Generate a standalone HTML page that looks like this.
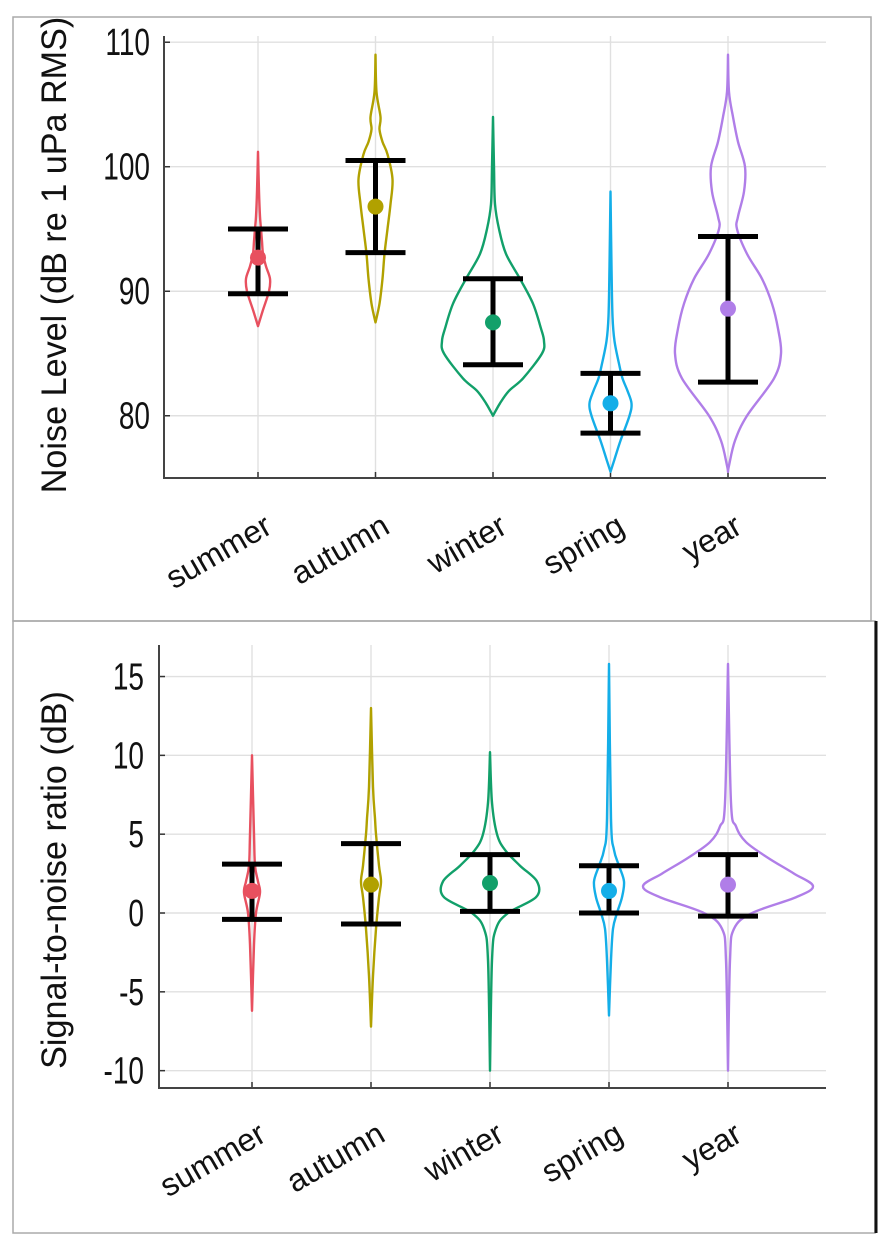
<!DOCTYPE html>
<html><head><meta charset="utf-8"><style>
html,body{margin:0;padding:0;background:#fff;}
svg{display:block;font-family:"Liberation Sans",Arial,sans-serif;}
</style></head><body>
<svg id="fig" width="886" height="1242" viewBox="0 0 886 1242" xmlns="http://www.w3.org/2000/svg">
<rect x="13" y="17" width="858" height="604" fill="none" stroke="#aaa" stroke-width="1.5"/>
<rect x="13" y="621" width="862" height="612" fill="none" stroke="#aaa" stroke-width="1.5"/>
<line x1="876" y1="621" x2="876" y2="1233" stroke="#111" stroke-width="3"/>
<g id="top"></g>
<g id="bot"></g>
</svg>
<script>
const categories = ["summer","autumn","winter","spring","year"];
const colors = ["#e8505f","#b1a100","#12a06a","#14aee8","#b07ee8"];
// top chart: noise level
const topTicks = [80,90,100,110];
const topMeans = [92.7,96.8,87.5,81.0,88.6];
const topErrLo = [89.8,93.1,84.1,78.6,82.7];
const topErrHi = [95.0,100.5,91.0,83.4,94.4];
const topViolinY = [
 [87.2,88.5,90,91,92,93,94,95,96,98,101.2],
 [87.5,89,91,93,95,97,99,101,102,103,104,106,109],
 [80,81,82,83,85,86,87,89,91,93,95,97,100,104],
 [75.5,76.5,78,80,81,82,83,84,86,88,92,98],
 [75.5,76,78,80,83,85,87,89,91,93,95,96,98,100,102,104,106,109]];
const topViolinW = [
 [0,5,11,12,8,5,4,3,2,1,0],
 [0,4,7,9,12,15,17,12,7,4,5,1,0],
 [0,7,16,30,49,51,48,40,27,13,6,2,1,0],
 [0,4,10,19,21,17,12,9,4,2,1,0],
 [0,1,7,19,46,53,50,44,34,19,9,10,16,17,10,5,1,0]];
// bottom chart: SNR
const botTicks = [-10,-5,0,5,10,15];
const botMeans = [1.4,1.8,1.9,1.4,1.8];
const botErrLo = [-0.4,-0.7,0.1,0.0,-0.2];
const botErrHi = [3.1,4.4,3.7,3.0,3.7];
const botViolinY = [
 [-6.2,-2,0,1.3,2,3,5,10],
 [-7.2,-4,-1,1,2,3,5,6,8,13],
 [-10,-3,-1,0,1,2,3,4,5,7,10.2],
 [-6.5,-3,-1,0,1,2,3,4,6,15.8],
 [-10,-3,-1,0,1,1.7,2.5,3.5,4.5,5.5,7,15.8]];
const botViolinW = [
 [0,2,4,8,6,3,2,0],
 [0,2,5,8,10,8,5,4,2,0],
 [0,2,6,18,46,47,30,15,7,2,0],
 [0,2,4,8,13,15,10,5,2,0],
 [0,2,6,24,68,85,66,40,18,8,3,0]];

const NS="http://www.w3.org/2000/svg";
function mk(parent,tag,attrs){const e=document.createElementNS(NS,tag);for(const k in attrs)e.setAttribute(k,attrs[k]);parent.appendChild(e);return e;}
function smooth(pts){let d="M"+pts[0][0]+","+pts[0][1];for(let i=0;i<pts.length-1;i++){const p0=pts[Math.max(0,i-1)],p1=pts[i],p2=pts[i+1],p3=pts[Math.min(pts.length-1,i+2)];const c1=[p1[0]+(p2[0]-p0[0])/6,p1[1]+(p2[1]-p0[1])/6],c2=[p2[0]-(p3[0]-p1[0])/6,p2[1]-(p3[1]-p1[1])/6];d+=" C"+c1[0]+","+c1[1]+" "+c2[0]+","+c2[1]+" "+p2[0]+","+p2[1];}return d;}

function chart(g,cfg){
 const {x0,x1,y0,y1,vmin,vmax,xs,ticks,means,lo,hi,vy,vw,title,titleY,tickX,labelY}=cfg;
 const Y=v=>y1-(v-vmin)/(vmax-vmin)*(y1-y0);
 const X=i=>xs[0]+i*(xs[1]-xs[0]);
 ticks.forEach(t=>{
  const l=mk(g,"line",{x1:x0,x2:x1,y1:Y(t),y2:Y(t),stroke:"#e0e0e0","stroke-width":1.4});
  
  
  const tk=mk(g,"line",{x1:x0,x2:x0+6,y1:Y(t),y2:Y(t),stroke:"#333","stroke-width":1.5});
  
  
  const tx=mk(g,"text",{x:0,y:0,"text-anchor":"end","font-size":28,fill:"#111",transform:`translate(${tickX},${Y(t)+13}) scale(1,1.35)`});
  tx.textContent=t;
  
  
 });
 categories.forEach((c,i)=>{
  const l=mk(g,"line",{x1:X(i),x2:X(i),y1:y0,y2:y1,stroke:"#e0e0e0","stroke-width":1.4});
  
  
  const tk=mk(g,"line",{x1:X(i),x2:X(i),y1:y1,y2:y1-6,stroke:"#333","stroke-width":1.5});
  
  
 });
 const ax=mk(g,"path",{d:`M${x0},${y0} L${x0},${y1} L${x1},${y1}`,fill:"none",stroke:"#444","stroke-width":2});
 
 
 categories.forEach((c,i)=>{
  const cx=X(i);
  const right=vy[i].map((v,k)=>[cx+vw[i][k],Y(v)]);
  const left=vy[i].map((v,k)=>[cx-vw[i][k],Y(v)]).reverse();
  const d=smooth(right)+" "+smooth(left).replace("M","L")+" Z";
  const p=mk(g,"path",{d:d,fill:"none",stroke:colors[i],"stroke-width":2.4,"stroke-linejoin":"round"});
  
  
  const eb=mk(g,"path",{d:`M${cx},${Y(lo[i])} L${cx},${Y(hi[i])} M${cx-30},${Y(lo[i])} L${cx+30},${Y(lo[i])} M${cx-30},${Y(hi[i])} L${cx+30},${Y(hi[i])}`,stroke:"#000","stroke-width":5,fill:"none"});
  
  
  const m=mk(g,"circle",{cx:cx,cy:Y(means[i]),r:8,fill:colors[i]});
  
  
  const t=mk(g,"text",{x:0,y:0,"text-anchor":"end","font-size":32,fill:"#111",transform:`translate(${cx+16},${labelY}) rotate(-30)`});
  t.textContent=c;
  
  
 });
 const tt=mk(g,"text",{x:0,y:0,"text-anchor":"middle","font-size":28,fill:"#111",transform:`translate(66,${titleY}) rotate(-90) scale(1.22,1.25)`});
 tt.textContent=title;
 
 
}
chart(document.getElementById("top"),{x0:164,x1:826,y0:36,y1:478,vmin:75,vmax:110.5,xs:[258,375.5],ticks:topTicks,means:topMeans,lo:topErrLo,hi:topErrHi,vy:topViolinY,vw:topViolinW,title:"Noise Level (dB re 1 uPa RMS)",titleY:255,tickX:150,labelY:532});
chart(document.getElementById("bot"),{x0:159,x1:826,y0:645,y1:1088,vmin:-11.1,vmax:17,xs:[252,371],ticks:botTicks,means:botMeans,lo:botErrLo,hi:botErrHi,vy:botViolinY,vw:botViolinW,title:"Signal-to-noise ratio (dB)",titleY:880,tickX:144,labelY:1140});
</script>
</body></html>
